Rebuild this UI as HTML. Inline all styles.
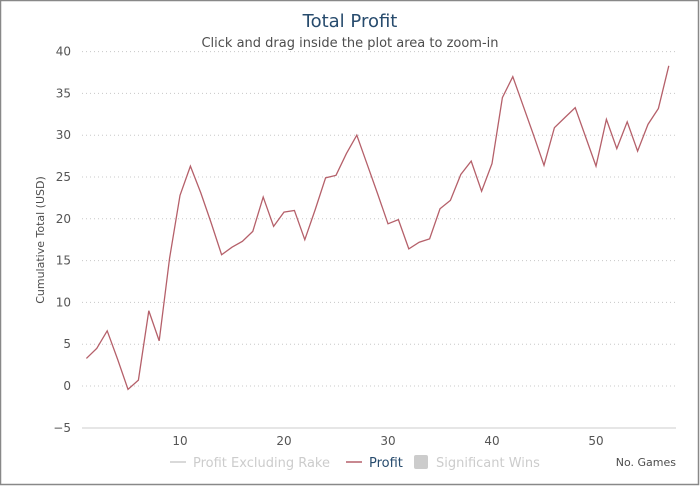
<!DOCTYPE html>
<html><head><meta charset="utf-8"><style>
body{margin:0;background:#fff;font-family:"DejaVu Sans","Liberation Sans",sans-serif}
svg{display:block}
</style></head><body>
<svg width="700" height="486" xmlns="http://www.w3.org/2000/svg">
<rect x="0.5" y="0.5" width="698" height="484" fill="#fff" stroke="#888" stroke-width="1.5"/>
<text x="350" y="27" text-anchor="middle" font-size="18" fill="#274b6d">Total Profit</text>
<text x="350" y="47" text-anchor="middle" font-size="13" fill="#4d4d4d">Click and drag inside the plot area to zoom-in</text>
<g id="grid"></g>
<g id="yticks"></g>
<line x1="82" y1="428" x2="676" y2="428" stroke="#ccc" stroke-width="1"/>
<g id="xticks"></g>
<text transform="translate(44,240) rotate(-90)" text-anchor="middle" font-size="11" fill="#4d4d4d">Cumulative Total (USD)</text>
<text x="676" y="466" text-anchor="end" font-size="11" fill="#4d4d4d">No. Games</text>
<polyline id="line" fill="none" stroke="#b5606a" stroke-width="1.3"/>
<g>
<g>
<line x1="170" y1="462" x2="186" y2="462" stroke="#ccc" stroke-width="1.5"/>
<text x="193" y="467" font-size="13" fill="#ccc">Profit Excluding Rake</text></g>
<g>
<line x1="346" y1="462" x2="362" y2="462" stroke="#b5606a" stroke-width="1.5"/>
<text x="369" y="467" font-size="13" fill="#274b6d">Profit</text></g>
<g>
<rect x="414" y="455" width="14" height="14" rx="2" fill="#ccc"/>
<text x="436" y="467" font-size="13" fill="#ccc">Significant Wins</text></g>
</g>
</svg>
<script>
const games = [];
for (let i = 1; i <= 57; i++) games.push(i);
const profit = [3.3,4.5,6.6,3.2,-0.4,0.7,9.0,5.4,15.3,22.8,26.3,23.1,19.5,15.7,16.6,17.3,18.5,22.6,19.1,20.8,21.0,17.5,21.1,24.9,25.2,27.8,30.0,26.5,23.0,19.4,19.9,16.4,17.2,17.6,21.2,22.2,25.3,26.9,23.3,26.6,34.5,37.0,33.5,30.0,26.4,30.9,32.1,33.3,29.8,26.3,31.9,28.4,31.6,28.1,31.3,33.2,38.3];
const yTicks = [-5,0,5,10,15,20,25,30,35,40];
const xTicks = [10,20,30,40,50];
const NS = "http://www.w3.org/2000/svg";
function xs(v){ return 180 + (v - 10) * 10.4; }
function ys(v){ return 386 - v * 8.36; }
const grid = document.getElementById('grid'), yt = document.getElementById('yticks'), xt = document.getElementById('xticks');
yTicks.forEach(t => {
  if (t > -5) {
    const l = document.createElementNS(NS, 'line');
    
    
    l.setAttribute('x1', 82); l.setAttribute('x2', 676);
    l.setAttribute('y1', ys(t)); l.setAttribute('y2', ys(t));
    l.setAttribute('stroke', '#c8c8c8'); l.setAttribute('stroke-dasharray', '1,3');
    grid.appendChild(l);
  }
  const tx = document.createElementNS(NS, 'text');
  
  
  tx.setAttribute('x', 71); tx.setAttribute('y', ys(t) + 4);
  tx.setAttribute('text-anchor', 'end'); tx.setAttribute('font-size', '12'); tx.setAttribute('fill', '#555');
  tx.textContent = t === -5 ? '\u22125' : String(t);
  yt.appendChild(tx);
});
xTicks.forEach(t => {
  const tx = document.createElementNS(NS, 'text');
  
  
  tx.setAttribute('x', xs(t)); tx.setAttribute('y', 445);
  tx.setAttribute('text-anchor', 'middle'); tx.setAttribute('font-size', '12'); tx.setAttribute('fill', '#555');
  tx.textContent = t;
  xt.appendChild(tx);
});
document.getElementById('line').setAttribute('points', profit.map((v, i) => xs(games[i]) + ',' + ys(v)).join(' '));
</script>
</body></html>
